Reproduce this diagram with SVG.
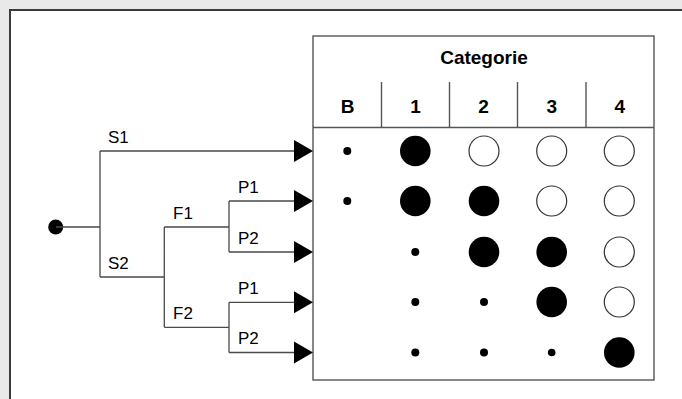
<svg xmlns="http://www.w3.org/2000/svg" width="682" height="399" viewBox="0 0 682 399">
<defs>
<style>
.ln{fill:none;stroke:#4a4a4a;stroke-width:1.3}
.tb{fill:none;stroke:#555;stroke-width:1.4}
.lab{font-family:"Liberation Sans",Arial,sans-serif;font-size:17px;fill:#000}
.hd{font-family:"Liberation Sans",Arial,sans-serif;font-size:19px;font-weight:bold;fill:#000;text-anchor:middle}
.big{fill:#000}
.open{fill:#fff;stroke:#333;stroke-width:1.2}
.dot{fill:#000}
.arr{fill:#000}
</style>
</defs>
<rect x="0" y="0" width="682" height="399" fill="#e8e9e8"/>
<rect x="10" y="10" width="680" height="400" fill="#fff" stroke="#3a3a3a" stroke-width="2"/>
<g id="table">
<rect class="tb" x="313" y="36" width="341" height="344"/>
<line class="tb" x1="313" y1="127.5" x2="654" y2="127.5"/>
<line class="tb" x1="381.5" y1="82" x2="381.5" y2="127.5"/>
<line class="tb" x1="449.5" y1="82" x2="449.5" y2="127.5"/>
<line class="tb" x1="517.5" y1="82" x2="517.5" y2="127.5"/>
<line class="tb" x1="586" y1="82" x2="586" y2="127.5"/>
<text class="hd" x="484" y="64.3">Categorie</text>
<text class="hd" x="347.5" y="112.7">B</text>
<text class="hd" x="415.5" y="112.7">1</text>
<text class="hd" x="483.5" y="112.7">2</text>
<text class="hd" x="551.7" y="112.7">3</text>
<text class="hd" x="619.8" y="112.7">4</text>
</g>
<g id="cells">
<circle class="dot" cx="347.3" cy="151" r="4"/>
<circle class="big" cx="415.3" cy="151" r="15.3"/>
<circle class="open" cx="484" cy="151" r="15"/>
<circle class="open" cx="551.7" cy="151" r="15"/>
<circle class="open" cx="619.3" cy="151" r="15"/>
<circle class="dot" cx="347.3" cy="201" r="4"/>
<circle class="big" cx="415.3" cy="201" r="15.3"/>
<circle class="big" cx="484" cy="201" r="15.3"/>
<circle class="open" cx="551.7" cy="201" r="15"/>
<circle class="open" cx="619.3" cy="201" r="15"/>
<circle class="dot" cx="415.3" cy="252" r="4"/>
<circle class="big" cx="484" cy="252" r="15.3"/>
<circle class="big" cx="551.7" cy="252" r="15.3"/>
<circle class="open" cx="619.3" cy="252" r="15"/>
<circle class="dot" cx="415.3" cy="302" r="4"/>
<circle class="dot" cx="484" cy="302" r="4"/>
<circle class="big" cx="551.7" cy="302" r="15.3"/>
<circle class="open" cx="619.3" cy="302" r="15"/>
<circle class="dot" cx="415.3" cy="352.5" r="4"/>
<circle class="dot" cx="484" cy="352.5" r="4"/>
<circle class="dot" cx="551.7" cy="352.5" r="3.8"/>
<circle class="big" cx="619.3" cy="352.5" r="15.3"/>
</g>
<g id="root">
<circle cx="55.7" cy="227" r="7.5" fill="#000"/>
</g>
<g id="connectors">
<path class="ln" d="M56 227H100M100 151V277M100 151H296M100 277H164.3M164.3 227V327.3M164.3 227H229M164.3 327.3H229M229 201V252M229 201H296M229 252H296M229 302.3V352.5M229 302.3H296M229 352.5H296"/>
<polygon class="arr" points="294,140 313,151 294,162"/>
<polygon class="arr" points="294,190 313,201 294,212"/>
<polygon class="arr" points="294,241 313,252 294,263"/>
<polygon class="arr" points="294,291.3 313,302.3 294,313.3"/>
<polygon class="arr" points="294,341.5 313,352.5 294,363.5"/>
</g>
<g id="labels">
<text class="lab" x="108" y="143.3">S1</text>
<text class="lab" x="108" y="269">S2</text>
<text class="lab" x="173" y="219">F1</text>
<text class="lab" x="173" y="319">F2</text>
<text class="lab" x="238" y="193">P1</text>
<text class="lab" x="238" y="244">P2</text>
<text class="lab" x="238" y="294">P1</text>
<text class="lab" x="238" y="344">P2</text>
</g>
</svg>
